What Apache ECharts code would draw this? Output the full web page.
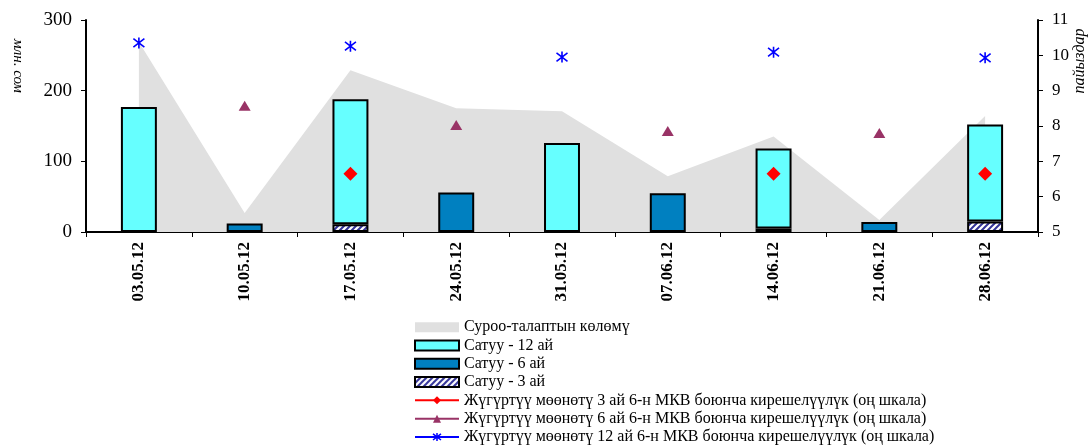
<!DOCTYPE html>
<html>
<head>
<meta charset="utf-8">
<script src="https://cdn.jsdelivr.net/npm/echarts@6/dist/echarts.min.js"></script>
<style>
html,body{margin:0;padding:0;background:#fff;}
#c{width:1091px;height:445px;}
</style>
</head>
<body>
<div id="c"></div>
<script>
var categories = ['03.05.12','10.05.12','17.05.12','24.05.12','31.05.12','07.06.12','14.06.12','21.06.12','28.06.12'];
var demand = [269, 27, 229, 175, 171, 79, 135, 17, 164];
var sale12 = [177, null, 177, null, 126, null, 113, null, 137];
var sale6 = [null, 12, null, 56, null, 55, null, 14, null];
var sale3 = [null, null, 11, null, null, null, 5, null, 15];
var yield3 = [null, null, 6.65, null, null, null, 6.65, null, 6.65];
var yield6 = [null, 8.57, null, 8.03, null, 7.86, null, 7.80, null];
var yield12 = [10.35, null, 10.26, null, 9.95, null, 10.09, null, 9.93];
var leftTicks = [0, 100, 200, 300];
var rightTicks = [5, 6, 7, 8, 9, 10, 11];

var names = [
  'Суроо-талаптын көлөмү',
  'Сатуу - 12 ай',
  'Сатуу - 6 ай',
  'Сатуу - 3 ай',
  'Жүгүртүү мөөнөтү 3 ай 6-н МКВ боюнча кирешелүүлүк (оң шкала)',
  'Жүгүртүү мөөнөтү 6 ай 6-н МКВ боюнча кирешелүүлүк (оң шкала)',
  'Жүгүртүү мөөнөтү 12 ай 6-н МКВ боюнча кирешелүүлүк (оң шкала)'
];

// hatch pattern for 3-month bars
var pc = document.createElement('canvas');
pc.width = 6; pc.height = 6;
var g = pc.getContext('2d');
g.fillStyle = '#ffffff'; g.fillRect(0,0,6,6);
g.strokeStyle = '#333399'; g.lineWidth = 2;
g.beginPath();
g.moveTo(-1,7); g.lineTo(7,-1);
g.moveTo(-4,4); g.lineTo(4,-4);
g.moveTo(2,10); g.lineTo(10,2);
g.stroke();
var hatch = {image: pc, repeat: 'repeat'};

var FONT = '"Liberation Serif", "Times New Roman", serif';
var starPath = 'path://M0,0L10,10M10,0L0,10M5,-1.5L5,11.5';

var chart = echarts.init(document.getElementById('c'), null, {renderer: 'canvas'});
chart.setOption({
  animation: false,
  backgroundColor: '#ffffff',
  grid: {left: 86, right: 53, top: 20, bottom: 213, containLabel: false},
  legend: {
    type: 'plain',
    orient: 'vertical',
    left: 414,
    top: 318,
    height: 160,
    itemWidth: 44,
    itemHeight: 10,
    itemGap: 0,
    padding: 0,
    textStyle: {fontFamily: FONT, fontSize: 16, color: '#000', lineHeight: 18.3},
    data: [
      {name: names[0], icon: 'rect', itemStyle: {color: '#e0e0e0', borderWidth: 0}},
      {name: names[1], icon: 'rect', itemStyle: {borderColor: '#000', borderWidth: 2}},
      {name: names[2], icon: 'rect', itemStyle: {borderColor: '#000', borderWidth: 2}},
      {name: names[3], icon: 'rect', itemStyle: {borderColor: '#000', borderWidth: 2}},
      {name: names[4], lineStyle: {color: '#ff0000', width: 2, opacity: 1}},
      {name: names[5], lineStyle: {color: '#993366', width: 2, opacity: 1}},
      {name: names[6], lineStyle: {color: '#0000ff', width: 2, opacity: 1}, itemStyle: {borderColor: '#0000ff', borderWidth: 1.5}}
    ]
  },
  graphic: [
    {type: 'text', x: 18, y: 66, rotation: -Math.PI / 2,
     style: {text: 'млн. сом', font: 'italic 15px ' + FONT, fill: '#000', align: 'center', verticalAlign: 'middle'}},
    {type: 'text', x: 1080, y: 61, rotation: Math.PI / 2,
     style: {text: 'пайыздар', font: 'italic 16px ' + FONT, fill: '#000', align: 'center', verticalAlign: 'middle'}}
  ],
  xAxis: {
    type: 'category',
    data: categories,
    boundaryGap: true,
    axisLine: {lineStyle: {color: '#000', width: 2}},
    axisTick: {show: true, length: 5, lineStyle: {color: '#000', width: 1}},
    axisLabel: {rotate: 90, margin: 10, fontFamily: FONT, fontSize: 17, fontWeight: 'bold', color: '#000'},
    splitLine: {show: false}
  },
  yAxis: [
    {
      type: 'value', min: leftTicks[0], max: leftTicks[leftTicks.length - 1], interval: 100,
      axisLine: {show: true, lineStyle: {color: '#000', width: 2}},
      axisTick: {show: true, length: 5, lineStyle: {color: '#000', width: 1}},
      axisLabel: {margin: 14, fontFamily: FONT, fontSize: 19, color: '#000'},
      splitLine: {show: false}
    },
    {
      type: 'value', min: rightTicks[0], max: rightTicks[rightTicks.length - 1], interval: 1,
      position: 'right',
      axisLine: {show: true, lineStyle: {color: '#000', width: 2}},
      axisTick: {show: true, length: 5, lineStyle: {color: '#000', width: 1}},
      axisLabel: {margin: 14, fontFamily: FONT, fontSize: 17, color: '#000'},
      splitLine: {show: false}
    }
  ],
  series: [
    {
      name: names[0], type: 'line', data: demand, yAxisIndex: 0,
      symbol: 'none', showSymbol: false,
      lineStyle: {width: 0},
      itemStyle: {color: '#e0e0e0'},
      areaStyle: {color: '#e0e0e0', opacity: 1},
      z: 1
    },
    {
      name: names[3], type: 'bar', stack: 's', data: sale3, barWidth: '34%',
      itemStyle: {color: hatch, borderColor: '#000', borderWidth: 2}, z: 2
    },
    {
      name: names[2], type: 'bar', stack: 's', data: sale6, barWidth: '34%',
      itemStyle: {color: '#0080c0', borderColor: '#000', borderWidth: 2}, z: 2
    },
    {
      name: names[1], type: 'bar', stack: 's', data: sale12, barWidth: '34%',
      itemStyle: {color: '#66ffff', borderColor: '#000', borderWidth: 2}, z: 2
    },
    {
      name: names[4], type: 'line', yAxisIndex: 1, data: yield3,
      symbol: 'diamond', symbolSize: 14, showSymbol: true, showAllSymbol: true,
      lineStyle: {color: '#ff0000', width: 2, opacity: 0},
      itemStyle: {color: '#ff0000'}, z: 5
    },
    {
      name: names[5], type: 'line', yAxisIndex: 1, data: yield6,
      symbol: 'triangle', symbolSize: [12, 10], showSymbol: true, showAllSymbol: true,
      lineStyle: {color: '#993366', width: 2, opacity: 0},
      itemStyle: {color: '#993366'}, z: 5
    },
    {
      name: names[6], type: 'line', yAxisIndex: 1, data: yield12,
      symbol: starPath, symbolSize: 11, showSymbol: true, showAllSymbol: true,
      lineStyle: {color: '#0000ff', width: 2, opacity: 0},
      itemStyle: {color: '#0000ff', borderColor: '#0000ff', borderWidth: 1.6}, z: 5
    }
  ]
});
</script>
</body>
</html>
